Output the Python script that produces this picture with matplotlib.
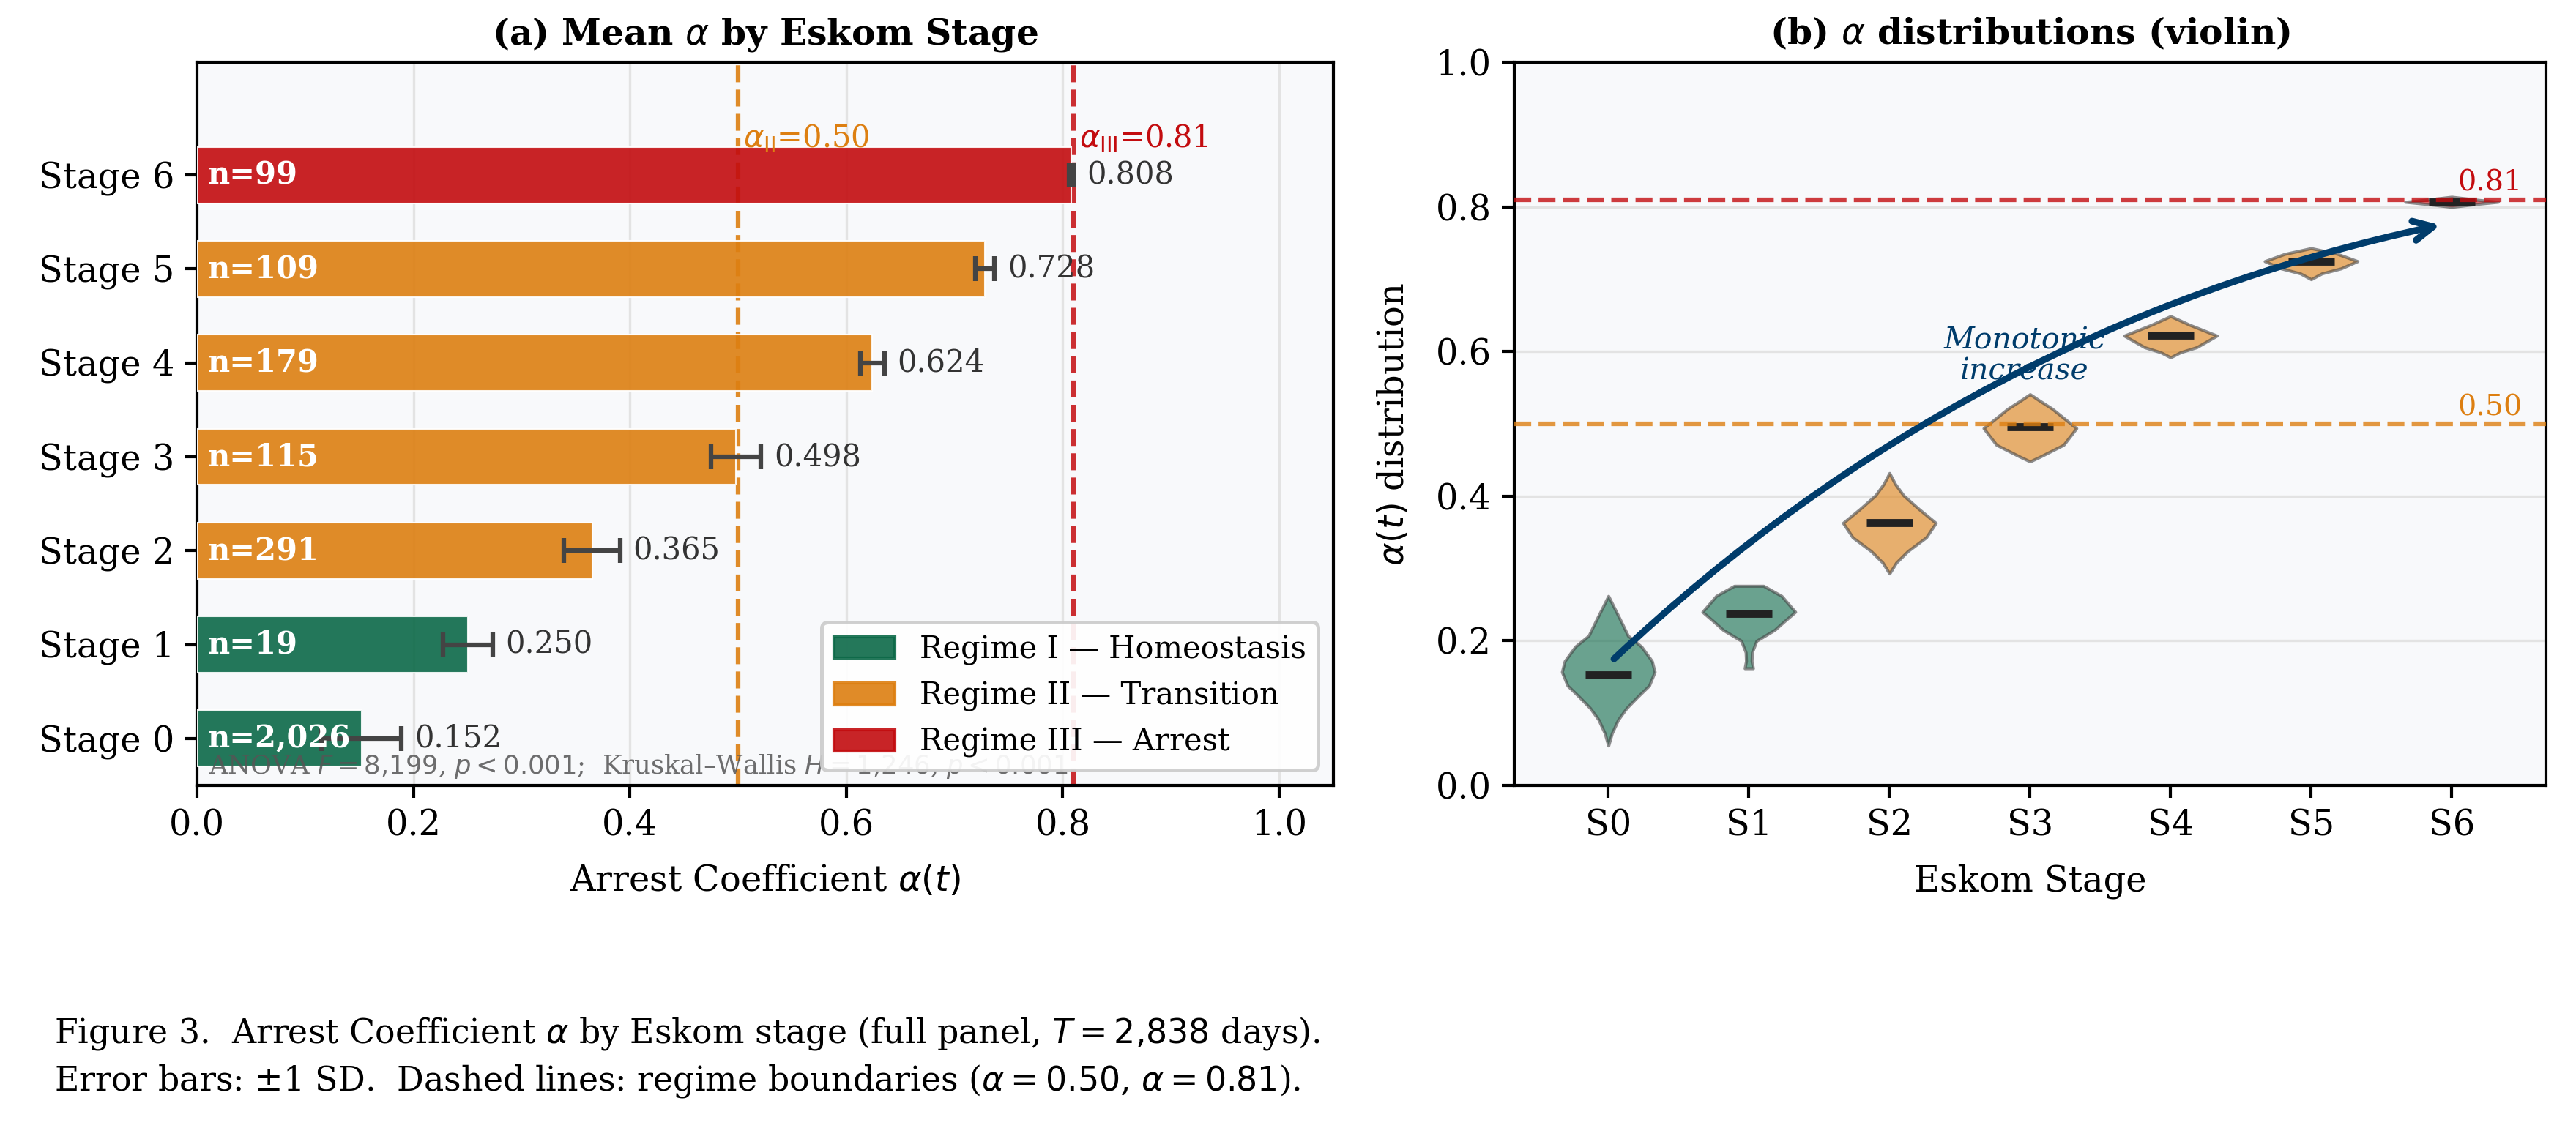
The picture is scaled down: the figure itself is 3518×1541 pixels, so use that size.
import numpy as np
import matplotlib.pyplot as plt
from matplotlib.patches import Patch

plt.rcParams['font.family'] = 'DejaVu Serif'

# ---- data ----
stages = ['Stage 0', 'Stage 1', 'Stage 2', 'Stage 3', 'Stage 4', 'Stage 5', 'Stage 6']
stage_short = ['S0', 'S1', 'S2', 'S3', 'S4', 'S5', 'S6']
mean_alpha = [0.152, 0.250, 0.365, 0.498, 0.624, 0.728, 0.808]
sd_alpha = [0.037, 0.023, 0.026, 0.023, 0.011, 0.009, 0.002]
n_days = [2026, 19, 291, 115, 179, 109, 99]
regime = [0, 0, 1, 1, 1, 1, 2]

regime_names = ['Regime I \u2014 Homeostasis', 'Regime II \u2014 Transition', 'Regime III \u2014 Arrest']
regime_colors = ['#0C6948', '#DD7F11', '#C30C0F']

alpha_II = 0.50
alpha_III = 0.81

# violin outlines: alpha values and relative widths
violin_coords = [
    [0.055, 0.072, 0.091, 0.107, 0.122, 0.138, 0.157, 0.172, 0.192, 0.207, 0.227, 0.262],
    [0.162, 0.172, 0.184, 0.200, 0.215, 0.227, 0.240, 0.262, 0.276],
    [0.293, 0.308, 0.324, 0.343, 0.363, 0.382, 0.401, 0.417, 0.432],
    [0.448, 0.455, 0.471, 0.494, 0.521, 0.533, 0.541],
    [0.592, 0.599, 0.606, 0.622, 0.637, 0.649],
    [0.700, 0.708, 0.715, 0.725, 0.735, 0.743],
    [0.800, 0.804, 0.807, 0.810, 0.814],
]
violin_widths = [
    [0.0, 0.05, 0.14, 0.26, 0.41, 0.58, 0.66, 0.62, 0.47, 0.28, 0.18, 0.0],
    [0.06, 0.04, 0.045, 0.11, 0.37, 0.51, 0.667, 0.47, 0.21],
    [0.0, 0.095, 0.26, 0.52, 0.657, 0.42, 0.20, 0.08, 0.0],
    [0.0, 0.15, 0.47, 0.65, 0.31, 0.12, 0.0],
    [0.0, 0.14, 0.37, 0.657, 0.27, 0.0],
    [0.0, 0.15, 0.42, 0.65, 0.37, 0.0],
    [0.0, 0.35, 0.66, 0.35, 0.0],
]
violin_medians = [0.153, 0.238, 0.363, 0.496, 0.623, 0.725, 0.807]

navy = '#003C6B'


def main():
    fig = plt.figure(figsize=(3518 / 300, 1541 / 300), dpi=300)
    ax1 = fig.add_axes([0.0765, 0.3037, 0.4411, 0.641])
    ax2 = fig.add_axes([0.5878, 0.3037, 0.4005, 0.641])

    for ax in (ax1, ax2):
        ax.set_facecolor('#F8F9FB')
        for sp in ax.spines.values():
            sp.set_color('black')
            sp.set_linewidth(1.0)
        ax.tick_params(labelsize=11.5, length=4, width=1.0)
        ax.set_axisbelow(True)

    # ---- (a) mean alpha per stage ----
    y = np.arange(len(stages))
    colors = [regime_colors[r] for r in regime]
    ax1.grid(axis='x', color='#E3E3E3', lw=0.8)
    ax1.axvline(alpha_II, color=regime_colors[1], ls='--', lw=1.5, alpha=0.9, zorder=2)
    ax1.axvline(alpha_III, color=regime_colors[2], ls='--', lw=1.5, alpha=0.85, zorder=2)
    ax1.barh(y, mean_alpha, height=0.6, color=colors, alpha=0.9,
             edgecolor='white', linewidth=0.5, zorder=3)
    ax1.errorbar(mean_alpha, y, xerr=sd_alpha, fmt='none', ecolor='#444444',
                 elinewidth=1.5, capsize=4, capthick=1.5, zorder=4)

    for yi, m, s, n in zip(y, mean_alpha, sd_alpha, n_days):
        ax1.text(m + s + 0.012, yi, f'{m:.3f}', va='center', ha='left',
                 fontsize=10, color='#333333', zorder=5)
        ax1.text(0.01, yi, f'n={n:,}', va='center', ha='left', fontsize=10,
                 fontweight='bold', color='white', zorder=5)

    ax1.text(alpha_II + 0.005, 6.3, r'$\alpha_{\rm II}$=0.50', color=regime_colors[1],
             fontsize=10, va='baseline', ha='left', zorder=5)
    ax1.text(alpha_III + 0.005, 6.3, r'$\alpha_{\rm III}$=0.81', color=regime_colors[2],
             fontsize=10, va='baseline', ha='left', zorder=5)

    ax1.text(0.01, 0.016,
             'ANOVA $F = 8{,}199$, $p < 0.001$;  Kruskal\u2013Wallis $H = 1{,}246$, $p < 0.001$',
             transform=ax1.transAxes, fontsize=8.5, color='#555555', alpha=0.85,
             va='baseline', ha='left', zorder=4)

    handles = [Patch(color=c, alpha=0.9, label=l) for c, l in zip(regime_colors, regime_names)]
    leg = ax1.legend(handles=handles, loc='lower right', fontsize=10, framealpha=0.92,
                     edgecolor='#CCCCCC', fancybox=True)
    leg.get_frame().set_linewidth(1.2)
    leg.set_zorder(6)

    ax1.set_yticks(y)
    ax1.set_yticklabels(stages)
    ax1.set_xlim(0, 1.05)
    ax1.set_ylim(-0.5, 7.2)
    ax1.set_xticks([0.0, 0.2, 0.4, 0.6, 0.8, 1.0])
    ax1.set_xlabel(r'Arrest Coefficient $\alpha(t)$', fontsize=11.5, labelpad=7)
    ax1.set_title(r'(a) Mean $\alpha$ by Eskom Stage', fontsize=11.7, fontweight='bold')

    # ---- (b) violin distributions ----
    ax2.grid(axis='y', color='#E3E3E3', lw=0.8)
    vpstats = []
    for c, w, med in zip(violin_coords, violin_widths, violin_medians):
        vpstats.append(dict(coords=np.array(c), vals=np.array(w), mean=med,
                            median=med, min=c[0], max=c[-1]))
    parts = ax2.violin(vpstats, positions=y, widths=0.66, showmeans=False,
                       showextrema=False, showmedians=True)
    for body, r in zip(parts['bodies'], regime):
        body.set_facecolor(regime_colors[r])
        body.set_edgecolor('#444444')
        body.set_linewidth(1.0)
        body.set_alpha(0.6)
    parts['cmedians'].set_color('#222222')
    parts['cmedians'].set_linewidth(2.6)

    ax2.axhline(alpha_III, color=regime_colors[2], ls='--', lw=1.5, alpha=0.8, zorder=3)
    ax2.axhline(alpha_II, color=regime_colors[1], ls='--', lw=1.5, alpha=0.8, zorder=3)
    ax2.text(6.5, alpha_III + 0.004, f'{alpha_III:.2f}', color=regime_colors[2],
             fontsize=9.5, ha='right', va='bottom')
    ax2.text(6.5, alpha_II + 0.004, f'{alpha_II:.2f}', color=regime_colors[1],
             fontsize=9.5, ha='right', va='bottom')

    ax2.text(2.96, 0.594, 'Monotonic\nincrease', style='italic', color=navy,
             fontsize=9.8, ha='center', va='center', linespacing=1.05)
    ax2.annotate('', xy=(5.92, mean_alpha[5] + 0.047), xytext=(0.04, mean_alpha[0] + 0.023),
                 arrowprops=dict(arrowstyle='->', color=navy, lw=2.2, mutation_scale=16,
                                 shrinkA=0, shrinkB=0,
                                 connectionstyle='arc3,rad=-0.14'))

    ax2.set_xticks(y)
    ax2.set_xticklabels(stage_short)
    ax2.set_xlim(-0.67, 6.67)
    ax2.set_ylim(0, 1.0)
    ax2.set_xlabel('Eskom Stage', fontsize=11.5, labelpad=7)
    ax2.set_ylabel(r'$\alpha(t)$ distribution', fontsize=11.5, labelpad=8)
    ax2.set_title(r'(b) $\alpha$ distributions (violin)', fontsize=11.7, fontweight='bold')

    fig.text(0.021, 0.025,
             'Figure 3.  Arrest Coefficient $\\alpha$ by Eskom stage (full panel, $T = 2{,}838$ days).\n'
             'Error bars: \u00b11 SD.  Dashed lines: regime boundaries ($\\alpha = 0.50$, $\\alpha = 0.81$).',
             fontsize=11, ha='left', va='bottom', linespacing=1.4)

    fig.savefig('out.png', dpi=300)
    plt.close(fig)


if __name__ == '__main__':
    main()
